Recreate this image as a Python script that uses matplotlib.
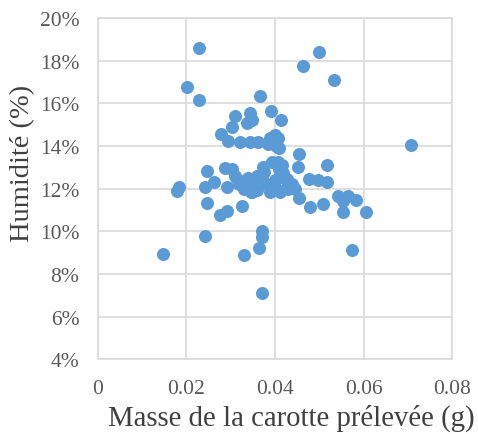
import numpy as np
import matplotlib
matplotlib.use("Agg")
import matplotlib.pyplot as plt
from matplotlib.ticker import FuncFormatter

# masse (g) et humidite (%)
masse = [
    0.0229, 0.0202, 0.0229, 0.0500, 0.0464, 0.0534, 0.0708,
    0.0367, 0.0392, 0.0413, 0.0310, 0.0344, 0.0349, 0.0337, 0.0303,
    0.0279, 0.0295, 0.0322, 0.0344, 0.0362, 0.0390, 0.0401, 0.0403, 0.0410,
    0.0396, 0.0385, 0.0408,
    0.0455, 0.0518, 0.0453, 0.0416, 0.0408,
    0.0247, 0.0263, 0.0180, 0.0184, 0.0243, 0.0247, 0.0277, 0.0292, 0.0326,
    0.0243, 0.0148, 0.0331, 0.0371, 0.0371, 0.0365, 0.0371,
    0.0288, 0.0303, 0.0292, 0.0314, 0.0333, 0.0349, 0.0374, 0.0394,
    0.0390, 0.0400, 0.0412, 0.0347,
    0.0478, 0.0498, 0.0518, 0.0455, 0.0480, 0.0509, 0.0543, 0.0566,
    0.0584, 0.0554, 0.0554, 0.0606, 0.0575,
    0.0419, 0.0430, 0.0412, 0.0446, 0.0427, 0.0439,
    0.0310, 0.0320, 0.0330, 0.0340, 0.0350, 0.0360, 0.0370, 0.0380,
    0.0375, 0.0360, 0.0410, 0.0400, 0.0420, 0.0430,
]
humidite = [
    18.6, 16.77, 16.17, 18.42, 17.75, 17.1, 14.05,
    16.35, 15.62, 15.2, 15.4, 15.55, 15.2, 15.1, 14.9,
    14.58, 14.25, 14.2, 14.2, 14.2, 14.4, 14.5, 14.0, 13.9,
    14.3, 14.1, 14.4,
    13.62, 13.1, 13.0, 13.1, 13.25,
    12.82, 12.32, 11.9, 12.1, 12.1, 11.35, 10.75, 10.95, 11.2,
    9.8, 8.95, 8.88, 10.0, 9.75, 9.2, 7.1,
    12.95, 12.9, 12.1, 12.45, 12.35, 11.85, 13.0, 13.25,
    11.85, 12.1, 11.85, 11.85,
    12.45, 12.4, 12.3, 11.55, 11.15, 11.3, 11.65, 11.65,
    11.45, 10.9, 11.4, 10.9, 9.1,
    12.75, 12.2, 11.9, 12.0, 12.45, 12.2,
    12.6, 12.2, 12.0, 12.5, 12.3, 12.6, 12.5, 12.2,
    12.8, 11.95, 12.9, 12.4, 12.5, 12.0,
]

x_ticks = [0, 0.02, 0.04, 0.06, 0.08]
y_ticks = [4, 6, 8, 10, 12, 14, 16, 18, 20]

plt.rcParams['font.family'] = ['Liberation Serif', 'DejaVu Serif']

fig = plt.figure(figsize=(4.78, 4.35), dpi=100)
ax = fig.add_axes([0.204, 0.172, 0.742, 0.784])

ax.scatter(masse, humidite, s=88, color='#5B9BD5', linewidths=0, zorder=3)

ax.set_xlim(0, 0.08)
ax.set_ylim(4, 20)
ax.set_xticks(x_ticks)
ax.set_yticks(y_ticks)
ax.xaxis.set_major_formatter(FuncFormatter(lambda v, p: '0' if v == 0 else '%g' % v))
ax.yaxis.set_major_formatter(FuncFormatter(lambda v, p: '%d%%' % v))

ax.grid(True, color='#d9d9d9', linewidth=1.2, zorder=0)
for sp in ax.spines.values():
    sp.set_color('#d9d9d9')
    sp.set_linewidth(1.2)
ax.tick_params(length=0, labelsize=15.5, colors='#595959')
ax.tick_params(axis='x', pad=14)
ax.tick_params(axis='y', pad=13)

ax.set_xlabel('Masse de la carotte prélevée (g)', fontsize=20.7, color='#404040')
ax.set_ylabel('Humidité (%)', fontsize=20.5, color='#404040')
ax.xaxis.set_label_coords(0.546, -0.13)
ax.yaxis.set_label_coords(-0.176, 0.578)

fig.savefig('out.png', dpi=100)
